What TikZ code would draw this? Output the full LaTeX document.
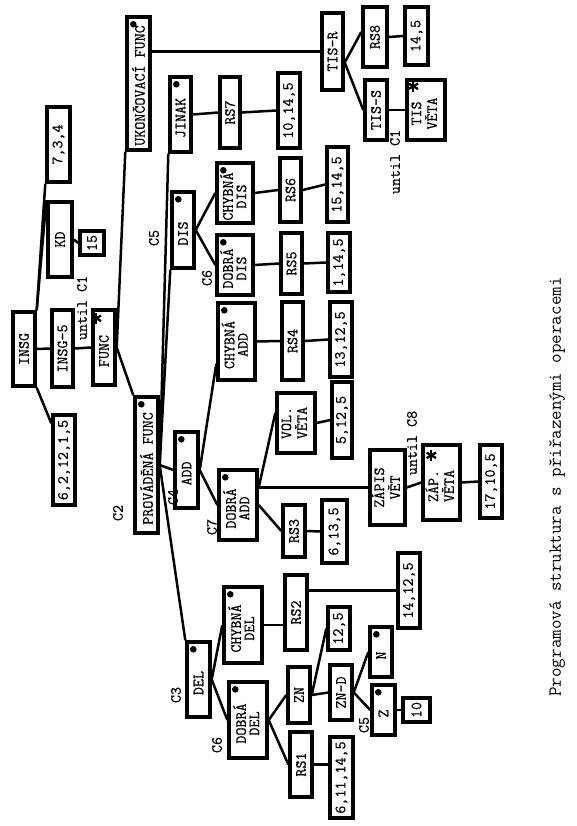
\documentclass[tikz,border=0pt]{standalone}
\usepackage{fontspec}
\usepackage{graphicx}
\newfontfamily\jfont[FakeBold=0.6]{Latin Modern Mono}
\newfontfamily\cfont{Latin Modern Mono}
\usetikzlibrary{calc}
\renewcommand{\arraystretch}{0.82}
\tikzset{
  jb/.style={draw, line width=3.4pt, inner sep=0pt, font=\jfont\fontsize{15.6}{15}\selectfont},
  cn/.style={line width=2.5pt},
  lab/.style={font=\jfont\fontsize{15.6}{15}\selectfont, rotate=90, inner sep=0pt},
}
\newcommand{\twol}[2]{\begin{tabular}{@{}c@{}}#1\\#2\end{tabular}}
\newcommand{\jbox}[6]{\node[jb,minimum width={(#3)-(#2)},minimum height={(#5)-(#4)}] (#1) at ({((#2)+(#3))/2},{((#4)+(#5))/2}) {\rotatebox{90}{#6}};}
\newcommand{\jdot}[1]{\fill ($(#1.north west)+(8,9)$) circle[radius=3.3];}
\newcommand{\jstar}[3]{\foreach \a in {90,30,150}{\draw[line width=2.3pt] ($(#1.north west)+(#2,#3)$) ++(\a:5.5) -- ++(\a+180:11);}}
\newcommand{\jsp}{\hspace{7pt}}
\begin{document}
\begin{tikzpicture}[x=1pt,y=-1pt]
\fill[white] (0,0) rectangle (577,826);
\useasboundingbox (0,0) rectangle (577,826);
% boxes
\jbox{root}{13}{35}{312}{386}{INSG}
\jbox{insg}{52}{73}{310}{387}{INSG-5}
\jbox{ops6}{53}{75}{415}{505}{6,2,12,1,5}
\jbox{kd}{48}{72}{202}{277}{KD}
\jbox{op15}{80}{104}{231}{255}{15}
\jbox{otf}{47}{70}{107}{182}{7,3,4}
\jbox{func}{93}{115}{310}{385}{FUNC\jsp}
\jbox{ukon}{127}{150}{17}{150}{UKONČOVACÍ FUNC\hspace{4pt}}
\jbox{prov}{135}{158}{397}{533}{PROVÁDĚNÁ FUNC\jsp}
\jbox{jinak}{170}{191}{77}{152}{JINAK\jsp}
\jbox{rsseven}{220}{240}{77}{148}{RS7}
\jbox{opseven}{278}{300}{73}{148}{10,14,5}
\jbox{dis}{172}{194}{192}{268}{DIS\jsp}
\jbox{chdis}{217}{253}{163}{223}{\twol{CHYBNÁ}{DIS}\jsp}
\jbox{rssix}{280}{301}{158}{222}{RS6}
\jbox{opsix}{327}{348}{147}{222}{15,14,5}
\jbox{dodis}{217}{253}{235}{295}{\twol{DOBRÁ}{DIS}\jsp}
\jbox{rsfive}{281}{302}{233}{294}{RS5}
\jbox{opfive}{328}{350}{233}{292}{1,14,5}
\jbox{add}{175}{198}{432}{508}{ADD\jsp}
\jbox{chadd}{218}{255}{303}{380}{\twol{CHYBNÁ}{ADD}\jsp}
\jbox{rsfour}{282}{303}{302}{380}{RS4}
\jbox{opfour}{330}{352}{302}{377}{13,12,5}
\jbox{doadd}{219}{257}{470}{540}{\twol{DOBRÁ}{ADD}\jsp}
\jbox{vol}{277}{315}{393}{453}{\twol{VOL.}{VĚTA}}
\jbox{opvol}{332}{352}{382}{458}{5,12,5}
\jbox{rsthree}{283}{305}{505}{557}{RS3}
\jbox{opthree}{322}{347}{500}{563}{6,13,5}
\jbox{zap}{370}{405}{450}{525}{\twol{ZÁPIS}{VĚT}}
\jbox{zapv}{423}{460}{445}{520}{\twol{ZÁP.}{VĚTA}\jsp}
\jbox{opzap}{480}{502}{445}{518}{17,10,5}
\jbox{del}{187}{210}{642}{717}{DEL\jsp}
\jbox{chdel}{224}{262}{587}{663}{\twol{CHYBNÁ}{DEL}\jsp}
\jbox{rstwo}{285}{307}{575}{650}{RS2}
\jbox{optwo}{398}{420}{553}{628}{14,12,5}
\jbox{dodel}{229}{267}{682}{758}{\twol{DOBRÁ}{DEL}\jsp}
\jbox{zn}{288}{310}{667}{723}{ZN}
\jbox{opzn}{328}{350}{607}{650}{12,5}
\jbox{znd}{330}{352}{665}{720}{ZN-D}
\jbox{nb}{370}{392}{627}{677}{N\jsp}
\jbox{zb}{372}{395}{685}{735}{Z\jsp}
\jbox{opten}{403}{430}{698}{722}{10}
\jbox{rsone}{290}{312}{732}{797}{RS1}
\jbox{opone}{330}{353}{737}{818}{6,11,14,5}
\jbox{tr}{322}{343}{13}{90}{TIS-R}
\jbox{rseight}{363}{387}{7}{67}{RS8}
\jbox{opeight}{405}{428}{7}{65}{14,5}
\jbox{trs}{365}{387}{80}{140}{TIS-S}
\jbox{tv}{407}{445}{80}{140}{\twol{TIS}{VĚTA}\jsp}
% dots and stars
\foreach \n in {ukon,prov,jinak,dis,chdis,dodis,add,chadd,doadd,del,chdel,dodel,nb,zb}{\jdot{\n}}
\jstar{func}{5}{10}
\jstar{tv}{8}{8}
\jstar{zapv}{10}{12}
% connectors
\draw[cn] (root.east) -- (insg.west);
\draw[cn] (root.north east) -- (otf.south west);
\draw[cn] (root.north east) -- (kd.north west);
\draw[cn] (root.south east) -- ($(ops6.north west)+(0,10)$);
\draw[cn] (insg.east) -- (func.west);
\draw[cn] (kd.east) -- (op15.west);
\draw[cn] (func.east) -- (ukon.south west);
\draw[cn] (func.east) -- (prov.north west);
\draw[cn] (prov.east) -- (jinak.south west);
\draw[cn] (prov.east) -- (dis.south west);
\draw[cn] (prov.east) -- (add.west);
\draw[cn] (prov.east) -- (del.north west);
\draw[cn] (jinak.east) -- (rsseven.west);
\draw[cn] (rsseven.east) -- (opseven.west);
\draw[cn] (dis.east) -- (chdis.west);
\draw[cn] (dis.east) -- (dodis.west);
\draw[cn] (chdis.east) -- (rssix.west);
\draw[cn] (rssix.east) -- (opsix.west);
\draw[cn] (dodis.east) -- (rsfive.west);
\draw[cn] (rsfive.east) -- (opfive.west);
\draw[cn] (add.east) -- ($(chadd.south west)+(0,-18)$);
\draw[cn] (add.east) -- (doadd.west);
\draw[cn] (chadd.east) -- (rsfour.west);
\draw[cn] (rsfour.east) -- (opfour.west);
\coordinate (dap) at (doadd.east |- zap.west);
\draw[cn] (dap) -- ($(vol.west)+(0,-10)$);
\draw[cn] (dap) -- (zap.west);
\draw[cn] (doadd.east) -- (rsthree.west);
\draw[cn] (vol.east) -- (opvol.west);
\draw[cn] (rsthree.east) -- (opthree.west);
\draw[cn] (zap.east) -- (zapv.west);
\draw[cn] (zapv.east) -- (opzap.west);
\draw[cn] (del.east) -- (chdel.west);
\draw[cn] (del.east) -- (dodel.west);
\draw[cn] (chdel.east) -- (chdel.east -| rstwo.west);
\draw[cn] (optwo.west -| rstwo.east) -- (optwo.west);
\draw[cn] (dodel.east) -- (zn.west);
\draw[cn] (dodel.east) -- (rsone.west);
\draw[cn] (zn.east) -- (opzn.west);
\draw[cn] (zn.east) -- (znd.west);
\draw[cn] (znd.east) -- (nb.west);
\draw[cn] (znd.east) -- (zb.west);
\draw[cn] (zb.east) -- (opten.west);
\draw[cn] (rsone.east) -- (rsone.east -| opone.west);
\draw[cn] (ukon.east |- tr.west) -- (tr.west);
\coordinate (trp) at ($(tr.east)+(0,11)$);
\draw[cn] (trp) -- ($(rseight.west)+(0,-5)$);
\draw[cn] (trp) -- (trs.west);
\draw[cn] (rseight.east) -- (opeight.west);
\draw[cn] (trs.east) -- (tv.west);
% labels
\node[lab] (lcone) at (82,308) {until C1};
\node[lab] (lconeb) at (395,162) {until C1};
\node[lab] (lceight) at (412,443) {until C8};
\node[lab] (lctwo) at (118,513) {C2};
\node[lab] (lcfour) at (173,497) {C4};
\node[lab] (lcfive) at (154,238) {C5};
\node[lab] (lcsix) at (207,278) {C6};
\node[lab] (lcseven) at (212,527) {C7};
\node[lab] (lcthree) at (176,695) {C3};
\node[lab] (lcsixb) at (217,745) {C6};
\node[lab] (lcfiveb) at (364,725) {C5};
\node[rotate=90, inner sep=0pt, font=\cfont\fontsize{18.5}{19}\selectfont] (cap) at (557,487) {Programová struktura s přiřazenými operacemi};
\end{tikzpicture}
\end{document}
